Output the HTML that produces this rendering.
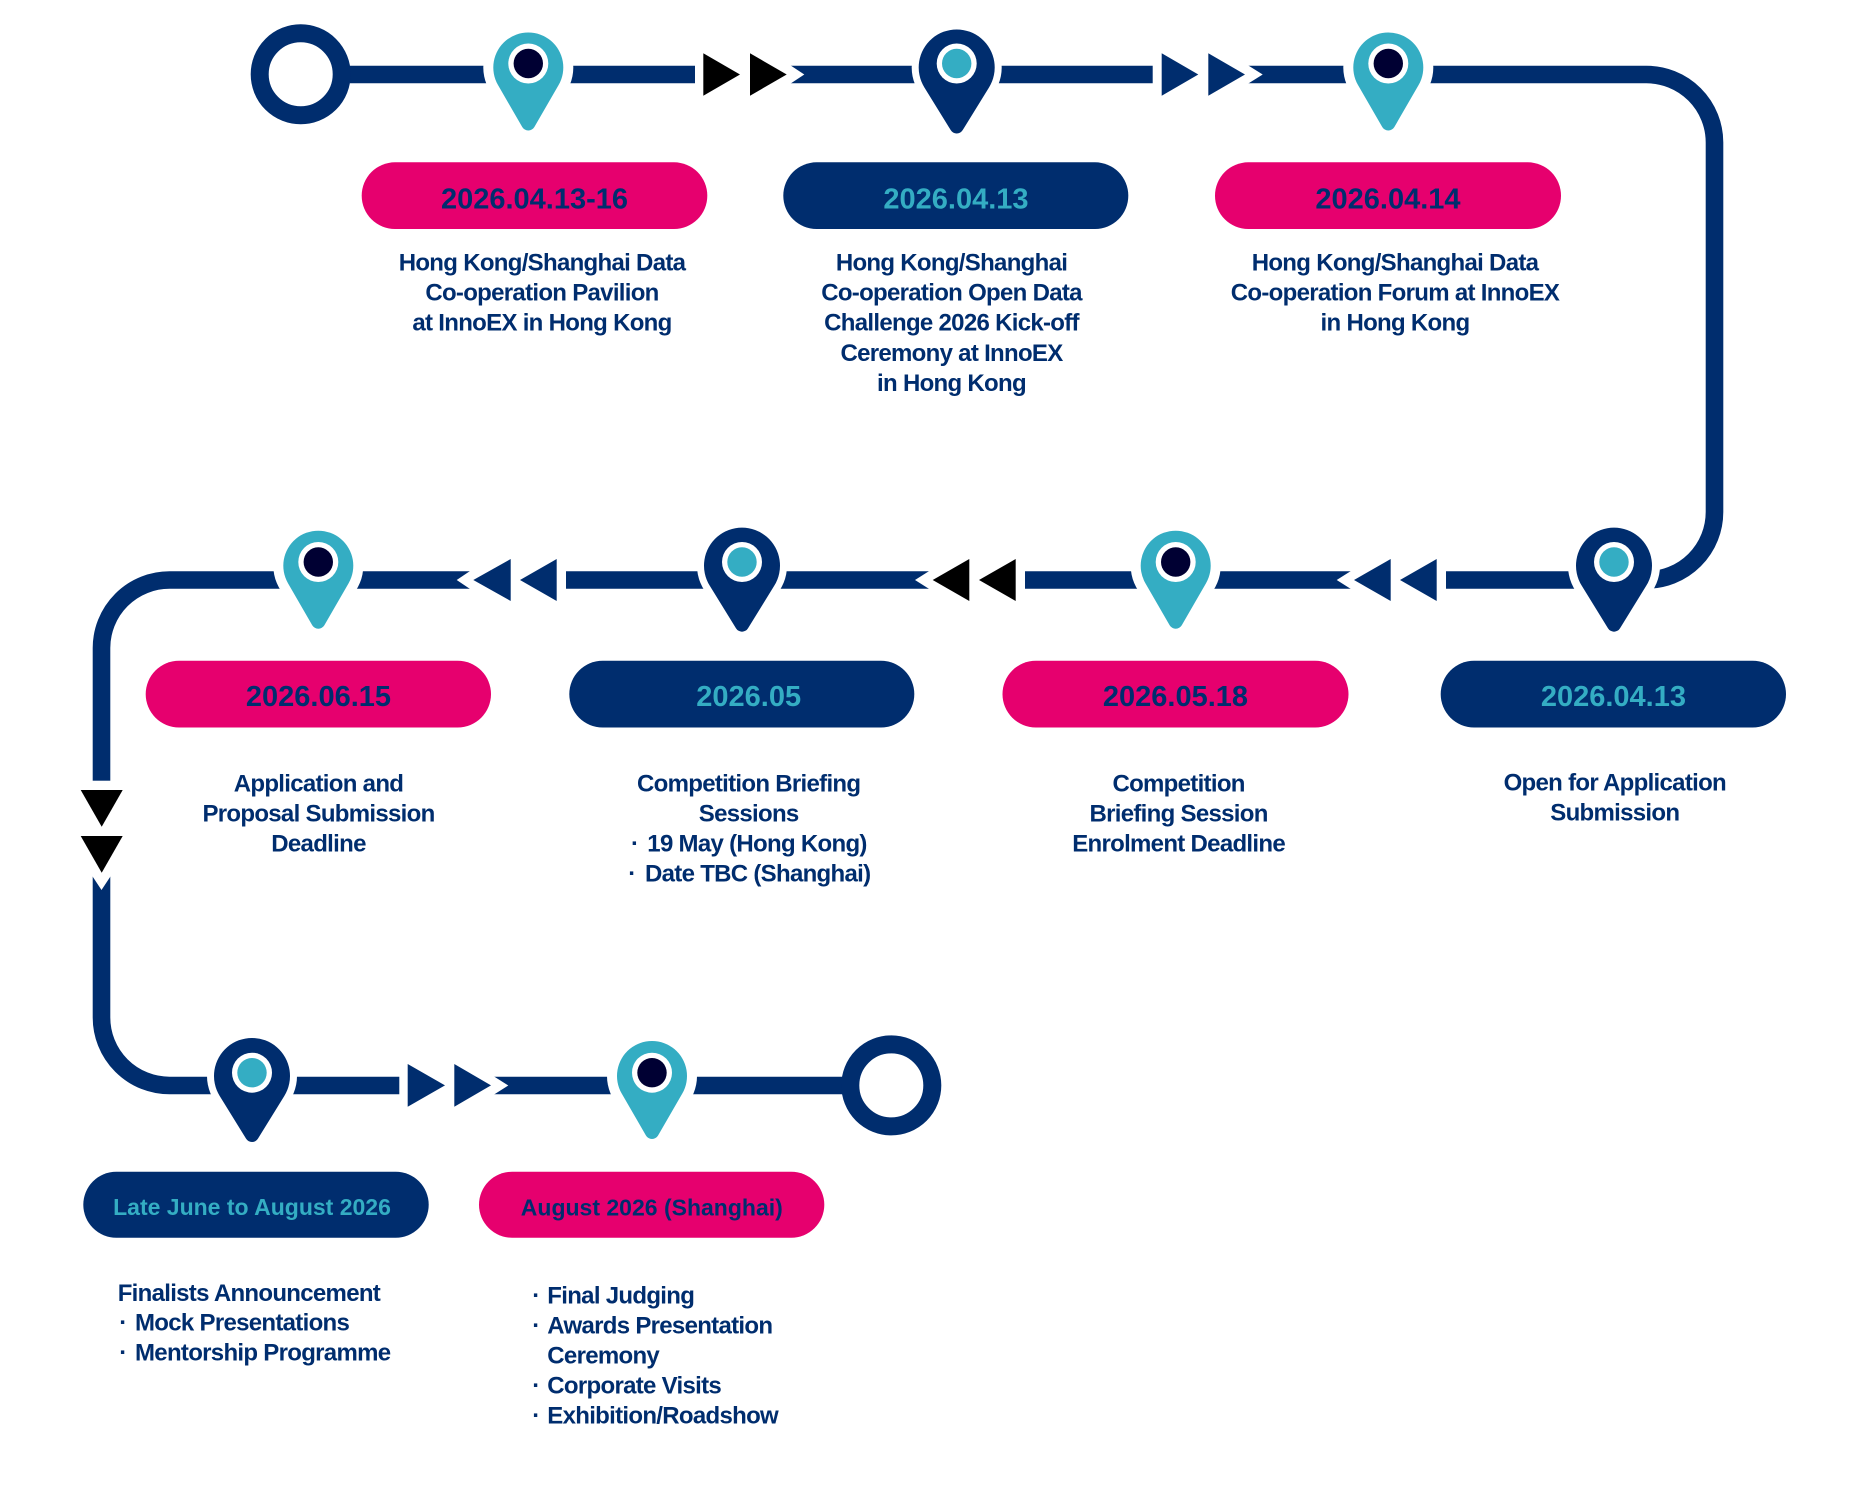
<!DOCTYPE html>
<html>
<head>
<meta charset="utf-8">
<style>
  html,body{margin:0;padding:0;background:#ffffff;}
  body{width:1867px;height:1494px;overflow:hidden;}
  svg{display:block;}
  .d{font-family:"Liberation Sans",Arial,sans-serif;font-weight:700;font-size:24px;fill:#002d6e;letter-spacing:-0.7px;}
  .bt{font-family:"Liberation Sans",Arial,sans-serif;font-weight:700;font-size:29px;}
  .bs{font-family:"Liberation Sans",Arial,sans-serif;font-weight:700;font-size:23px;}
</style>
</head>
<body>
<svg width="1867" height="1494" viewBox="0 0 1867 1494" xmlns="http://www.w3.org/2000/svg">
  <defs>
    <path id="pinC" d="M -30.31 17.5 A 35 35 0 1 1 30.31 17.5 L 6.06 59.5 A 7 7 0 0 1 -6.06 59.5 Z"/>
    <path id="pinN" d="M -32.3 19.97 A 38 38 0 1 1 32.3 19.97 L 5.96 62.67 A 7 7 0 0 1 -5.96 62.67 Z"/>
  </defs>

  <!-- main track -->
  <path d="M 350 74.5 H 1646.5 A 68 68 0 0 1 1714.5 142.5 V 512 A 68 68 0 0 1 1646.5 580 H 169.5 A 68 68 0 0 0 101.5 648 V 1017.5 A 68 68 0 0 0 169.5 1085.5 H 850"
        fill="none" stroke="#002d6e" stroke-width="17.6"/>

  <!-- start / end rings -->
  <circle cx="300.7" cy="74.3" r="41" fill="#ffffff" stroke="#002d6e" stroke-width="18"/>
  <circle cx="891.3" cy="1085.4" r="41" fill="#ffffff" stroke="#002d6e" stroke-width="18"/>

  <!-- arrow group cut-outs -->
  <g fill="#ffffff">
    <rect x="695" y="63" width="95" height="23"/>
    <polygon points="788.4,64 804.3,74.5 788.4,85"/>
    <rect x="1152.7" y="63" width="94.8" height="23"/>
    <polygon points="1245.9,64 1262.7,74.5 1245.9,85"/>
    <rect x="470.7" y="568.5" width="95.3" height="23"/>
    <polygon points="472.3,569.5 456.7,580 472.3,590.5"/>
    <rect x="930" y="568.5" width="95" height="23"/>
    <polygon points="931.6,569.5 915,580 931.6,590.5"/>
    <rect x="1351.7" y="568.5" width="94.3" height="23"/>
    <polygon points="1353.3,569.5 1336.7,580 1353.3,590.5"/>
    <rect x="90" y="780.7" width="23" height="95"/>
    <polygon points="91,874.1 101.5,890 112,874.1"/>
    <rect x="399.3" y="1074" width="94" height="23"/>
    <polygon points="491.7,1075 508.3,1085.5 491.7,1096"/>
  </g>

  <!-- arrows -->
  <g fill="#000000">
    <polygon points="703.3,53.3 740,74.5 703.3,95.7"/>
    <polygon points="750,53.3 786.7,74.5 750,95.7"/>
  </g>
  <g fill="#002d6e">
    <polygon points="1161.7,53.3 1198.3,74.5 1161.7,95.7"/>
    <polygon points="1208.3,53.3 1245,74.5 1208.3,95.7"/>
  </g>
  <g fill="#002d6e">
    <polygon points="510.7,559 473.3,580 510.7,601"/>
    <polygon points="556.7,559 520,580 556.7,601"/>
  </g>
  <g fill="#000000">
    <polygon points="969.3,559 932.7,580 969.3,601"/>
    <polygon points="1015.7,559 979,580 1015.7,601"/>
  </g>
  <g fill="#002d6e">
    <polygon points="1390.7,559 1354,580 1390.7,601"/>
    <polygon points="1436.7,559 1400,580 1436.7,601"/>
  </g>
  <g fill="#000000">
    <polygon points="80.7,790 101.7,826.7 122.7,790"/>
    <polygon points="80.7,836 101.7,872.7 122.7,836"/>
  </g>
  <g fill="#002d6e">
    <polygon points="407.7,1064 445,1085.4 407.7,1106.8"/>
    <polygon points="454.3,1064 491,1085.4 454.3,1106.8"/>
  </g>

  <!-- pin halos -->
  <g fill="#ffffff">
    <circle cx="528.3" cy="67.5" r="45"/>
    <circle cx="956.7" cy="67.5" r="45"/>
    <circle cx="1388.3" cy="67.5" r="45"/>
    <circle cx="318.3" cy="565.7" r="45"/>
    <circle cx="742" cy="565.7" r="45"/>
    <circle cx="1175.7" cy="565.7" r="45"/>
    <circle cx="1614" cy="565.7" r="46"/>
    <circle cx="252" cy="1076" r="45"/>
    <circle cx="652" cy="1076" r="45"/>
  </g>

  <!-- cyan pins -->
  <g>
    <use href="#pinC" x="528.3" y="67.5" fill="#34adc3"/>
    <circle cx="528.3" cy="63.5" r="20" fill="#ffffff"/><circle cx="528.3" cy="63.5" r="14.7" fill="#000033"/>
    <use href="#pinC" x="1388.3" y="67.5" fill="#34adc3"/>
    <circle cx="1388.3" cy="63.5" r="20" fill="#ffffff"/><circle cx="1388.3" cy="63.5" r="14.7" fill="#000033"/>
    <use href="#pinC" x="318.3" y="565.7" fill="#34adc3"/>
    <circle cx="318.3" cy="562" r="20" fill="#ffffff"/><circle cx="318.3" cy="562" r="14.7" fill="#000033"/>
    <use href="#pinC" x="1175.7" y="565.7" fill="#34adc3"/>
    <circle cx="1175.7" cy="562" r="20" fill="#ffffff"/><circle cx="1175.7" cy="562" r="14.7" fill="#000033"/>
    <use href="#pinC" x="652" y="1076" fill="#34adc3"/>
    <circle cx="652" cy="1072.7" r="20" fill="#ffffff"/><circle cx="652" cy="1072.7" r="14.7" fill="#000033"/>
  </g>
  <!-- navy pins -->
  <g>
    <use href="#pinN" x="956.7" y="67.5" fill="#002d6e"/>
    <circle cx="956.7" cy="63.5" r="20" fill="#ffffff"/><circle cx="956.7" cy="63.5" r="14.7" fill="#34adc3"/>
    <use href="#pinN" x="742" y="565.7" fill="#002d6e"/>
    <circle cx="742" cy="562" r="20" fill="#ffffff"/><circle cx="742" cy="562" r="14.7" fill="#34adc3"/>
    <use href="#pinN" x="1614" y="565.7" fill="#002d6e"/>
    <circle cx="1614" cy="562" r="20" fill="#ffffff"/><circle cx="1614" cy="562" r="14.7" fill="#34adc3"/>
    <use href="#pinN" x="252" y="1076" fill="#002d6e"/>
    <circle cx="252" cy="1072.7" r="20" fill="#ffffff"/><circle cx="252" cy="1072.7" r="14.7" fill="#34adc3"/>
  </g>

  <!-- badges row 1 -->
  <rect x="361.7" y="162.3" width="345.6" height="66.7" rx="33.3" fill="#e6006e"/>
  <text class="bt" x="534.5" y="208.5" text-anchor="middle" fill="#002d6e">2026.04.13-16</text>
  <rect x="783.3" y="162.3" width="345" height="66.7" rx="33.3" fill="#002d6e"/>
  <text class="bt" x="956" y="208.5" text-anchor="middle" fill="#34adc3">2026.04.13</text>
  <rect x="1215" y="162.3" width="346" height="66.7" rx="33.3" fill="#e6006e"/>
  <text class="bt" x="1388" y="208.5" text-anchor="middle" fill="#002d6e">2026.04.14</text>

  <!-- badges row 2 -->
  <rect x="145.7" y="660.7" width="345.3" height="66.8" rx="33.4" fill="#e6006e"/>
  <text class="bt" x="318.5" y="706" text-anchor="middle" fill="#002d6e">2026.06.15</text>
  <rect x="569.3" y="660.7" width="345" height="66.8" rx="33.4" fill="#002d6e"/>
  <text class="bt" x="748.7" y="706" text-anchor="middle" fill="#34adc3">2026.05</text>
  <rect x="1002.5" y="660.7" width="346" height="66.8" rx="33.4" fill="#e6006e"/>
  <text class="bt" x="1175.5" y="706" text-anchor="middle" fill="#002d6e">2026.05.18</text>
  <rect x="1440.7" y="660.7" width="345.3" height="66.8" rx="33.4" fill="#002d6e"/>
  <text class="bt" x="1613.4" y="706" text-anchor="middle" fill="#34adc3">2026.04.13</text>

  <!-- badges row 3 -->
  <rect x="83.3" y="1171.7" width="345.4" height="66" rx="33" fill="#002d6e"/>
  <text class="bs" x="252" y="1215" text-anchor="middle" fill="#34adc3">Late June to August 2026</text>
  <rect x="479" y="1171.7" width="345.3" height="66" rx="33" fill="#e6006e"/>
  <text class="bs" x="651.8" y="1215.5" text-anchor="middle" fill="#002d6e">August 2026 (Shanghai)</text>

  <!-- descriptions row 1 -->
  <g class="d" text-anchor="middle">
    <text x="542" y="270.7">Hong Kong/Shanghai Data</text>
    <text x="542" y="300.7">Co-operation Pavilion</text>
    <text x="542" y="330.7">at InnoEX in Hong Kong</text>

    <text x="951.5" y="270.7">Hong Kong/Shanghai</text>
    <text x="951.5" y="300.7">Co-operation Open Data</text>
    <text x="951.5" y="330.7">Challenge 2026 Kick-off</text>
    <text x="951.5" y="361">Ceremony at InnoEX</text>
    <text x="951.5" y="391">in Hong Kong</text>

    <text x="1395" y="270.7">Hong Kong/Shanghai Data</text>
    <text x="1395" y="300.7">Co-operation Forum at InnoEX</text>
    <text x="1395" y="330.7">in Hong Kong</text>
  </g>

  <!-- descriptions row 2 -->
  <g class="d" text-anchor="middle">
    <text x="318.5" y="791.7">Application and</text>
    <text x="318.5" y="821.7">Proposal Submission</text>
    <text x="318.5" y="851.7">Deadline</text>

    <text x="748.7" y="791.7">Competition Briefing</text>
    <text x="748.7" y="821.7">Sessions</text>

    <text x="1178.6" y="791.7">Competition</text>
    <text x="1178.6" y="821.7">Briefing Session</text>
    <text x="1178.6" y="851.7">Enrolment Deadline</text>

    <text x="1614.8" y="790.5">Open for Application</text>
    <text x="1614.8" y="820.5">Submission</text>
  </g>
  <g class="d">
    <text x="631" y="851.7">·</text>
    <text x="647.3" y="851.7">19 May (Hong Kong)</text>
    <text x="628.3" y="881.7">·</text>
    <text x="645" y="881.7">Date TBC (Shanghai)</text>
  </g>

  <!-- descriptions row 3 -->
  <g class="d">
    <text x="117.7" y="1301">Finalists Announcement</text>
    <text x="119.3" y="1330.5">·</text>
    <text x="135" y="1330.5">Mock Presentations</text>
    <text x="119.3" y="1360.3">·</text>
    <text x="135" y="1360.3">Mentorship Programme</text>

    <text x="532.3" y="1303.3">·</text>
    <text x="547.3" y="1303.3">Final Judging</text>
    <text x="532.3" y="1333.3">·</text>
    <text x="547.3" y="1333.3">Awards Presentation</text>
    <text x="547.3" y="1363.3">Ceremony</text>
    <text x="532.3" y="1393.3">·</text>
    <text x="547.3" y="1393.3">Corporate Visits</text>
    <text x="532.3" y="1423.3">·</text>
    <text x="547.3" y="1423.3">Exhibition/Roadshow</text>
  </g>
</svg>
</body>
</html>
